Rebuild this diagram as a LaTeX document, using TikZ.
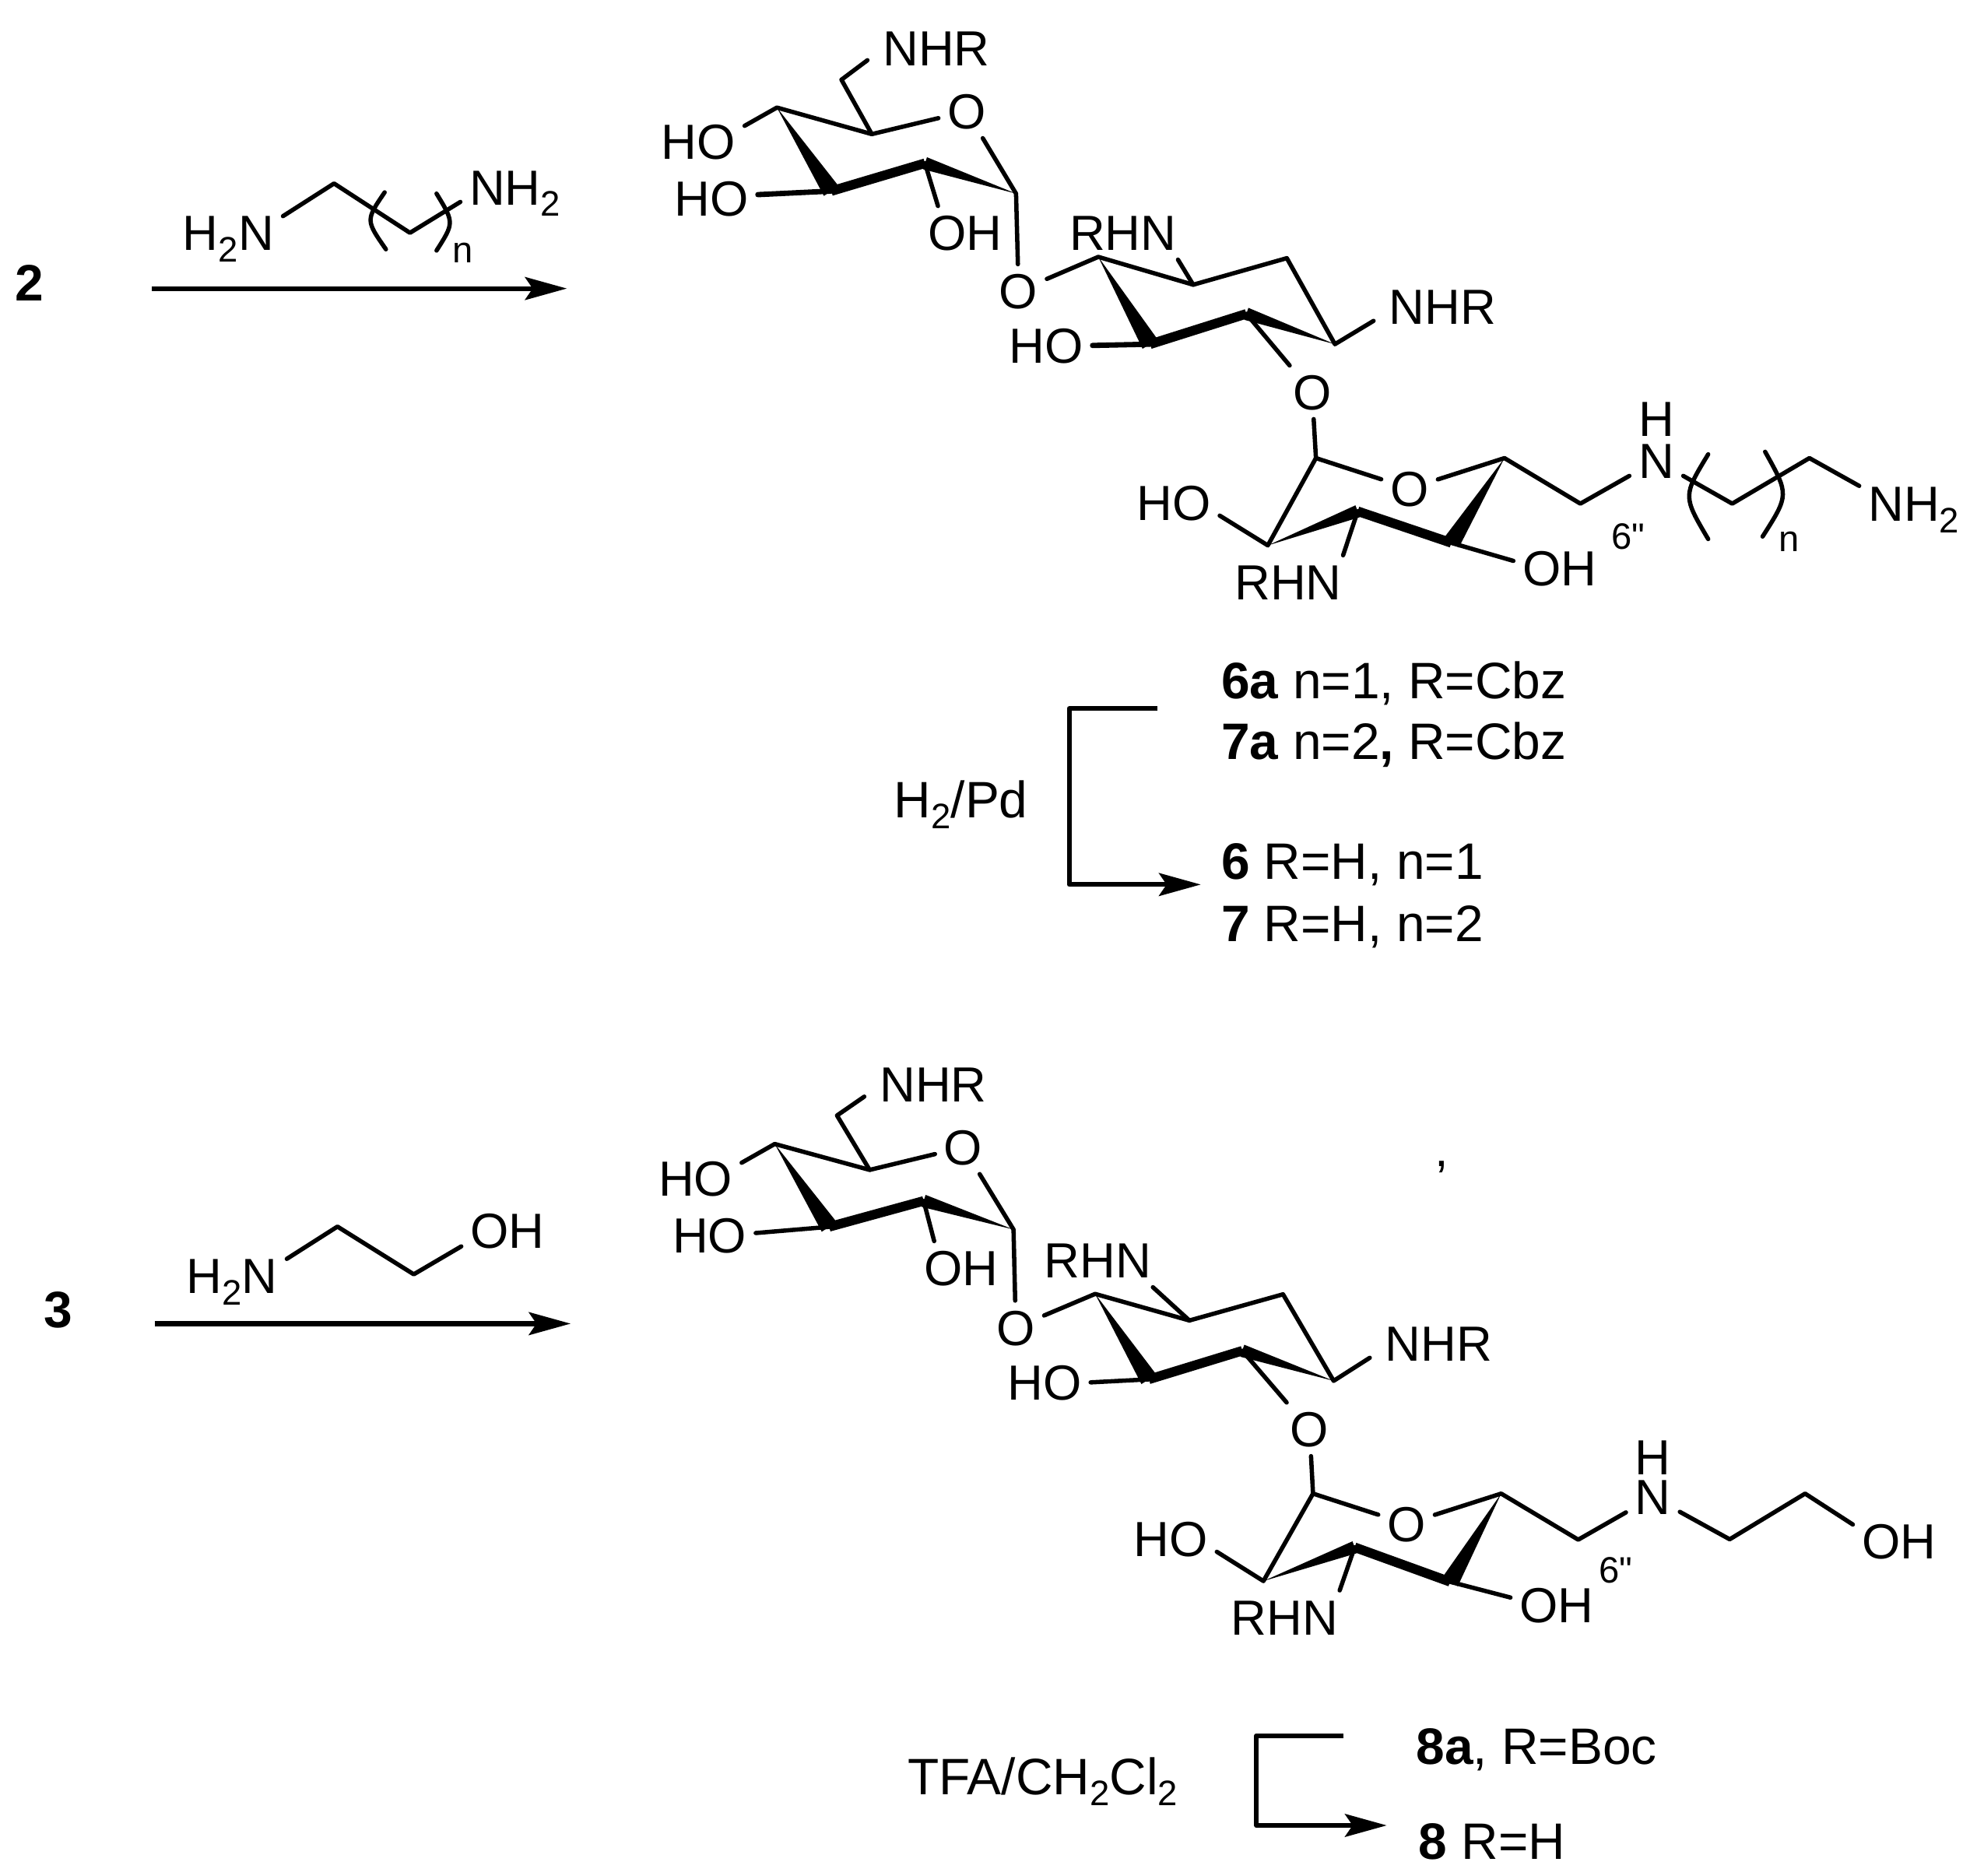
\documentclass[tikz,border=0pt]{standalone}
\usepackage{fontspec}
\setmainfont{Liberation Sans}
\newfontfamily\plainfont{Liberation Sans}
\usetikzlibrary{calc,arrows.meta}
\newcommand{\subnum}{\raisebox{-9pt}{\fontsize{28}{28}\selectfont 2}}
\newcommand{\wedgebond}[3]{\fill (#1) -- ($(#2)!#3!90:(#1)$) -- ($(#2)!#3!-90:(#1)$) -- cycle;}
\tikzset{
    bond/.style={line width=3.4pt, line cap=round, line join=round},
    boldbond/.style={line width=7.5pt},
    rxnarrow/.style={line width=3.8pt, line join=round, -{Stealth[length=33pt,width=18pt,inset=6pt]}},
    atom/.style={font=\fontsize{39}{39}\selectfont, inner sep=7pt, text height=28pt, text depth=0pt},
    atomsmall/.style={font=\fontsize{29}{29}\selectfont\plainfont, inner sep=0pt},
    cmpd/.style={font=\fontsize{40.5}{40.5}\selectfont, inner sep=0pt, text height=28pt, text depth=0pt, anchor=west},
}
\begin{document}
\begin{tikzpicture}[x=1pt, y=-1pt]
    \useasboundingbox (0,0) rectangle (1568,1482);

    % first reaction
    \node[cmpd, anchor=center] (cmpdtwo) at (23,224) {\textbf{2}};
    \coordinate (arrowa) at (120,228);
    \coordinate (arrowb) at (448,228);
    \draw[rxnarrow] (arrowa) -- (arrowb);
    \node[atom] (ramine) at (180.5,184) {H\subnum N};
    \node[atom] (rnh) at (407,148) {NH\subnum};
    \coordinate (rca) at (264,145);
    \coordinate (rcb) at (324,184);
    \draw[bond] (ramine.17) -- (rca) -- (rcb) -- (rnh.195);
    \draw[bond] (304,152) .. controls (289,174) .. (305,197);
    \draw[bond] (345,153) .. controls (359,176) .. (345,198);
    \node[atomsmall] (rn) at (366,200) {n};

    % upper product
    \coordinate (aCH) at (665,63);
    \coordinate (aC5) at (689,106);
    \coordinate (aC4) at (614,85);
    \coordinate (aC3) at (657,151);
    \coordinate (aC2) at (731,129);
    \coordinate (aC1) at (803,153);
    \coordinate (bC1) at (868,203);
    \coordinate (bC6) at (943,225);
    \coordinate (bC5) at (1017,204);
    \coordinate (bC4) at (1055,272);
    \coordinate (bC3) at (985,248);
    \coordinate (bC2) at (909,272);
    \coordinate (cC1) at (1040,362);
    \coordinate (cC5) at (1189,362);
    \coordinate (cC4) at (1147,429);
    \coordinate (cC3) at (1073,404);
    \coordinate (cC2) at (1002,431);
    \coordinate (cCH) at (1249,398);
    \coordinate (tCa) at (1369,398);
    \coordinate (tCb) at (1430,362);
    \node[atom, inner xsep=12pt] (nhra) at (740,38) {NHR};
    \node[atom] (oa) at (764,88) {O};
    \node[atom] (hoa) at (552,112) {HO};
    \node[atom] (hob) at (562.5,157) {HO};
    \node[atom] (oha) at (762.5,184) {OH};
    \node[atom] (ob) at (805,230) {O};
    \node[atom] (rhna) at (887.5,184) {RHN};
    \node[atom, inner xsep=12pt] (nhrb) at (1140,242) {NHR};
    \node[atom] (hoc) at (827,273) {HO};
    \node[atom] (oc) at (1037,310) {O};
    \node[atom] (od) at (1114,386) {O};
    \node[atom] (hod) at (927.5,397) {HO};
    \node[atom] (rhnb) at (1018,460) {RHN};
    \node[atom] (ohb) at (1232.5,449) {OH};
    \node[atomsmall] (sixa) at (1287,424) {6"};
    \node[atom, inner sep=0pt] (ha) at (1309,331) {H};
    \node[atom] (na) at (1309,364) {N};
    \node[atom] (nhta) at (1512.5,398) {NH\subnum};
    \node[atomsmall] (na2) at (1414,428) {n};
    \draw[bond] (nhra.190) -- (aCH) -- (aC5) -- (oa);
    \draw[bond] (aC5) -- (aC4) -- (hoa.19);
    \draw[bond] (oa) -- (aC1) -- (ob);
    \draw[bond] (aC2) -- (oha.135);
    \draw[bond, line width=4.2pt] (aC3) -- (hob.5);
    \wedgebond{aC4}{aC3}{7pt}
    \draw[boldbond] (aC3) -- (aC2);
    \wedgebond{aC1}{aC2}{5pt}
    \draw[bond] (ob) -- (bC1) -- (bC6) -- (bC5) -- (bC4) -- (nhrb.192);
    \draw[bond] (bC6) -- (rhna.-26);
    \draw[bond, line width=4.2pt] (bC2) -- (hoc.east);
    \draw[bond] (bC3) -- (oc) -- (cC1) -- (od) -- (cC5) -- (cCH) -- (na) -- (tCa) -- (tCb) -- (nhta.162);
    \wedgebond{bC1}{bC2}{7pt}
    \draw[boldbond] (bC2) -- (bC3);
    \wedgebond{bC4}{bC3}{5pt}
    \draw[bond] (cC1) -- (cC2) -- (hod.-16);
    \draw[bond] (cC3) -- (rhnb.26);
    \draw[bond] (cC4) -- (ohb.171);
    \wedgebond{cC2}{cC3}{5pt}
    \draw[boldbond] (cC3) -- (cC4);
    \wedgebond{cC5}{cC4}{7pt}
    \draw[bond] (1350,359) .. controls (1330,392) .. (1350,426);
    \draw[bond] (1395,357) .. controls (1414,391) .. (1393,424);

    % compounds of the first series
    \node[cmpd] (lsixa) at (965,538) {\textbf{6a} n=1, R=Cbz};
    \node[cmpd] (lsevena) at (965,586) {\textbf{7a} n=2\textbf{,} R=Cbz};
    \node[cmpd] (lsix) at (965,681) {\textbf{6} R=H, n=1};
    \node[cmpd] (lseven) at (965,730) {\textbf{7} R=H, n=2};
    \node[cmpd, anchor=center] (hpd) at (759.5,632) {H\subnum/Pd};
    \coordinate (brka) at (915,560);
    \coordinate (brkb) at (845,560);
    \coordinate (brkc) at (845,699);
    \coordinate (brkd) at (949,699);
    \draw[rxnarrow] (brka) -- (brkb) -- (brkc) -- (brkd);

    % second reaction
    \node[cmpd, anchor=center] (cmpdthree) at (46,1035) {\textbf{3}};
    \coordinate (arrowc) at (122.4,1046);
    \coordinate (arrowd) at (451,1046);
    \draw[rxnarrow] (arrowc) -- (arrowd);
    \node[atom] (samine) at (183.5,1008) {H\subnum N};
    \node[atom] (soh) at (401,972.4) {OH};
    \coordinate (sca) at (266.7,969.3);
    \coordinate (scb) at (327,1007);
    \draw[bond] (samine.17) -- (sca) -- (scb) -- (soh.199);

    % lower product
    \coordinate (dCH) at (661.5,881.5);
    \coordinate (dC5) at (687.3,924.5);
    \coordinate (dC4) at (612.3,904);
    \coordinate (dC3) at (655.3,969.5);
    \coordinate (dC2) at (730,949);
    \coordinate (dC1) at (801,971.6);
    \coordinate (eC1) at (865.5,1022.5);
    \coordinate (eC6) at (940,1043.5);
    \coordinate (eC5) at (1014,1022.8);
    \coordinate (eC4) at (1054,1091.2);
    \coordinate (eC3) at (981.8,1067.4);
    \coordinate (eC2) at (908,1090);
    \coordinate (fC1) at (1037.7,1180.3);
    \coordinate (fC5) at (1186.4,1180.3);
    \coordinate (fC4) at (1146,1250);
    \coordinate (fC3) at (1070.6,1222.7);
    \coordinate (fC2) at (998.5,1249.4);
    \coordinate (fCH) at (1247.3,1216.7);
    \coordinate (uCa) at (1367,1216.4);
    \coordinate (uCb) at (1426.6,1180.3);
    \node[atom, inner xsep=12pt] (nhrc) at (737.5,857) {NHR};
    \node[atom] (oe) at (761.3,906.6) {O};
    \node[atom] (hoe) at (549.7,931.4) {HO};
    \node[atom] (hof) at (560.8,976.3) {HO};
    \node[atom] (ohc) at (759.5,1002) {OH};
    \node[atom] (of) at (802.8,1049) {O};
    \node[atom] (rhnc) at (867.7,996) {RHN};
    \node[atom, inner xsep=12pt] (nhrd) at (1137,1061.4) {NHR};
    \node[atom] (hog) at (825.5,1092.4) {HO};
    \node[atom] (og) at (1035,1129.5) {O};
    \node[atom] (oh) at (1111.6,1204.2) {O};
    \node[atom] (hoh) at (925.2,1215.8) {HO};
    \node[atom] (rhnd) at (1015.3,1278) {RHN};
    \node[atom] (ohd) at (1230.2,1268.2) {OH};
    \node[atomsmall] (sixb) at (1277,1241) {6"};
    \node[atom, inner sep=0pt] (hb) at (1306.3,1151.5) {H};
    \node[atom] (nb) at (1306.3,1183) {N};
    \node[atom] (ohe) at (1500.8,1218) {OH};
    \node[atom] (comma) at (1139.5,908) {,};
    \draw[bond] (nhrc.190) -- (dCH) -- (dC5) -- (oe);
    \draw[bond] (dC5) -- (dC4) -- (hoe.19);
    \draw[bond] (oe) -- (dC1) -- (of);
    \draw[bond] (dC2) -- (ohc.135);
    \draw[bond] (dC3) -- (hof.3);
    \wedgebond{dC4}{dC3}{7pt}
    \draw[boldbond] (dC3) -- (dC2);
    \wedgebond{dC1}{dC2}{5pt}
    \draw[bond] (of) -- (eC1) -- (eC6) -- (eC5) -- (eC4) -- (nhrd.192);
    \draw[bond] (eC6) -- (rhnc.-26);
    \draw[bond] (eC2) -- (hog.east);
    \draw[bond] (eC3) -- (og) -- (fC1) -- (oh) -- (fC5) -- (fCH) -- (nb) -- (uCa) -- (uCb) -- (ohe.160);
    \wedgebond{eC1}{eC2}{7pt}
    \draw[boldbond] (eC2) -- (eC3);
    \wedgebond{eC4}{eC3}{5pt}
    \draw[bond] (fC1) -- (fC2) -- (hoh.-16);
    \draw[bond] (fC3) -- (rhnd.26);
    \draw[bond] (fC4) -- (ohd.171);
    \wedgebond{fC2}{fC3}{5pt}
    \draw[boldbond] (fC3) -- (fC4);
    \wedgebond{fC5}{fC4}{7pt}

    % compounds of the second series
    \node[cmpd] (leighta) at (1119,1380) {\textbf{8a}, R=Boc};
    \node[cmpd] (leight) at (1121,1455) {\textbf{8} R=H};
    \node[cmpd, anchor=center] (tfa) at (824,1404) {TFA/CH\subnum Cl\subnum};
    \coordinate (brke) at (1062,1371.5);
    \coordinate (brkf) at (993,1371.5);
    \coordinate (brkg) at (993,1442.5);
    \coordinate (brkh) at (1096,1442.5);
    \draw[rxnarrow] (brke) -- (brkf) -- (brkg) -- (brkh);
\end{tikzpicture}
\end{document}
